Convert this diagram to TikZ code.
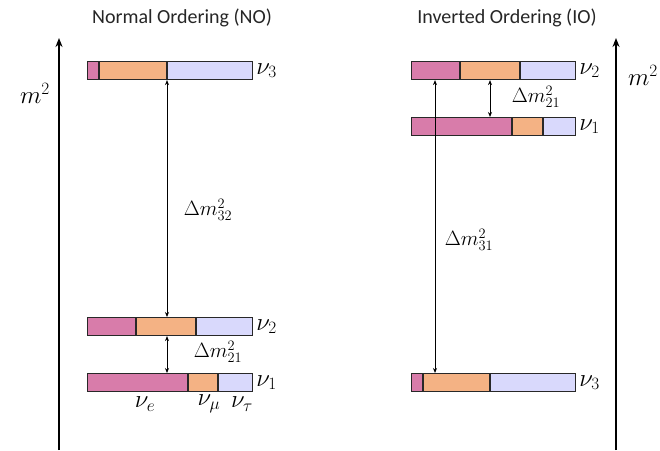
\documentclass[tikz,border=0pt]{standalone}
\usepackage{fontspec}
\setmainfont{Carlito}
\usetikzlibrary{arrows.meta}

\definecolor{nue}{RGB}{216,124,170}
\definecolor{numu}{RGB}{244,178,132}
\definecolor{nutau}{RGB}{217,217,252}
\definecolor{edge}{RGB}{40,40,40}

\tikzset{
  barframe/.style={draw=edge, line width=1.1pt, inner sep=0pt, anchor=north west, minimum height=18pt},
  split/.style={draw=edge, line width=1.1pt},
  gap/.style={line width=0.9pt, {Stealth[length=5pt,width=4pt]}-{Stealth[length=5pt,width=4pt]}},
  massaxis/.style={line width=2pt, -{Stealth[length=9pt,width=7pt]}},
  title/.style={font=\fontsize{20}{22}\selectfont, text=black!85},
  statelabel/.style={anchor=west, font=\fontsize{24}{26}\selectfont, inner sep=3pt},
  gaplabel/.style={font=\fontsize{21}{23}\selectfont},
  flavour/.style={font=\fontsize{24}{26}\selectfont}
}

% #1 node name, #2 left edge, #3 first split, #4 second split, #5 right edge, #6 top edge
\newcommand\massstate[6]{%
  \fill[nue]   (#2,#6) rectangle (#3,#6+18);
  \fill[numu]  (#3,#6) rectangle (#4,#6+18);
  \fill[nutau] (#4,#6) rectangle (#5,#6+18);
  \draw[split] (#3,#6) -- (#3,#6+18);
  \draw[split] (#4,#6) -- (#4,#6+18);
  \node[barframe, minimum width={(#5-#2)*1pt}] (#1) at (#2,#6) {};
}

\begin{document}
\begin{tikzpicture}[x=1pt, y=-1pt]
  \useasboundingbox (0,0) rectangle (660,450);

  % mass-squared axes
  \coordinate (axl0) at (59,450);
  \coordinate (axl1) at (59,38);
  \coordinate (axr0) at (616,450);
  \coordinate (axr1) at (616,38);
  \draw[massaxis] (axl0) -- (axl1);
  \draw[massaxis] (axr0) -- (axr1);
  \node (ml) at (35,93) {\fontsize{26}{28}\selectfont$m^2$};
  \node (mr) at (643,75) {\fontsize{26}{28}\selectfont$m^2$};

  % headings
  \node[title] (tno) at (182,18) {Normal Ordering (NO)};
  \node[title] (tio) at (507,18) {Inverted Ordering (IO)};

  % normal ordering
  \massstate{no3}{87}{99}{167}{252}{61}
  \massstate{no2}{87}{136}{196}{252}{317}
  \massstate{no1}{87}{188}{218}{252}{373}
  \node[statelabel] (lno3) at (no3.east) {$\nu_3$};
  \node[statelabel] (lno2) at (no2.east) {$\nu_2$};
  \node[statelabel] (lno1) at (no1.east) {$\nu_1$};

  \coordinate (xno) at (167,0);
  \draw[gap] (xno |- no3.south) -- (xno |- no2.north);
  \draw[gap] (xno |- no2.south) -- (xno |- no1.north);
  \node[gaplabel] (dno32) at (208,210) {$\Delta m^2_{32}$};
  \node[gaplabel] (dno21) at (218,352) {$\Delta m^2_{21}$};

  \node[flavour] (fe)  at (145,404) {$\nu_e$};
  \node[flavour] (fmu) at (209,404) {$\nu_\mu$};
  \node[flavour] (ftau) at (242,404) {$\nu_\tau$};

  % inverted ordering
  \massstate{io2}{411}{460}{520}{575}{61}
  \massstate{io1}{411}{512}{543}{575}{117}
  \massstate{io3}{411}{423}{490}{575}{373}
  \node[statelabel] (lio2) at (io2.east) {$\nu_2$};
  \node[statelabel] (lio1) at (io1.east) {$\nu_1$};
  \node[statelabel] (lio3) at (io3.east) {$\nu_3$};

  \coordinate (xio31) at (435,0);
  \coordinate (xio21) at (490,0);
  \draw[gap] (xio31 |- io2.south) -- (xio31 |- io3.north);
  \draw[gap] (xio21 |- io2.south) -- (xio21 |- io1.north);
  \node[gaplabel] (dio21) at (536,97) {$\Delta m^2_{21}$};
  \node[gaplabel] (dio31) at (469,240) {$\Delta m^2_{31}$};
\end{tikzpicture}
\end{document}
